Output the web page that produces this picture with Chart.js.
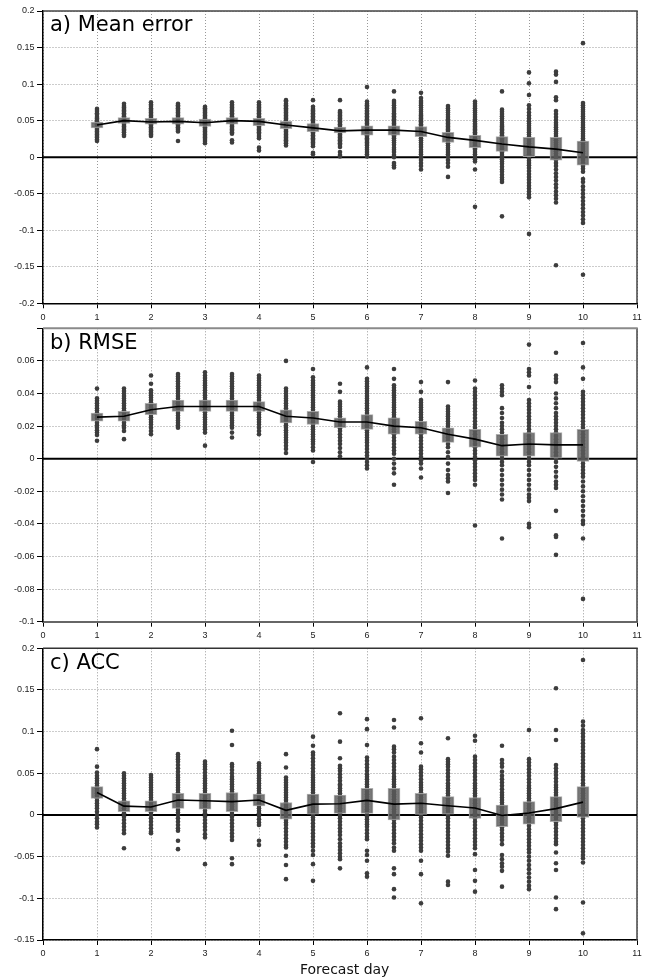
<!DOCTYPE html>
<html><head><meta charset="utf-8">
<script src="https://cdn.jsdelivr.net/npm/chart.js@4.4.0/dist/chart.umd.min.js"></script>
<style>
html,body{margin:0;padding:0;background:#fff;width:648px;height:980px;overflow:hidden}
canvas{position:absolute;left:0}
#xt{position:absolute;left:244.7px;width:200px;top:961px;text-align:center;font:14px "DejaVu Sans";line-height:16px;color:#111}
</style></head><body>
<canvas id="ca" width="648" height="330" style="top:0px"></canvas>
<canvas id="cb" width="648" height="330" style="top:318px"></canvas>
<canvas id="cc" width="648" height="342" style="top:638px"></canvas>
<div id="xt">Forecast day</div>
<script>
const days = [1,1.5,2,2.5,3,3.5,4,4.5,5,5.5,6,6.5,7,7.5,8,8.5,9,9.5,10];
const xTickVals = [0,1,2,3,4,5,6,7,8,9,10,11];
const xTickLabels = ['0','1','2','3','4','5','6','7','8','9','10','11'];

// ---- a) Mean error ----
const meTitle = 'a) Mean error';
const meTickVals = [-0.2,-0.15,-0.1,-0.05,0,0.05,0.1,0.15,0.2];
const meTickLabels = ['-0.2','-0.15','-0.1','-0.05','0','0.05','0.1','0.15','0.2'];
const meMean = [0.044,0.050,0.048,0.049,0.047,0.050,0.049,0.044,0.040,0.036,0.037,0.037,0.035,0.027,0.023,0.018,0.014,0.011,0.006];
const meBoxLow = [0.040,0.046,0.045,0.045,0.042,0.045,0.043,0.039,0.035,0.033,0.030,0.030,0.028,0.020,0.013,0.008,0.000,-0.004,-0.011];
const meBoxHigh = [0.048,0.054,0.053,0.054,0.052,0.054,0.053,0.049,0.046,0.041,0.043,0.043,0.042,0.034,0.030,0.028,0.027,0.027,0.022];
const meDots = [
 [0.066,0.063,0.060,0.058,0.055,0.053,0.051,0.049,0.047,0.045,0.043,0.041,0.039,0.037,0.035,0.033,0.031,0.029,0.027,0.024,0.022],
 [0.073,0.070,0.068,0.066,0.064,0.062,0.060,0.058,0.056,0.054,0.052,0.050,0.048,0.046,0.044,0.042,0.040,0.038,0.036,0.034,0.031,0.029],
 [0.075,0.072,0.070,0.067,0.065,0.063,0.061,0.059,0.057,0.055,0.053,0.051,0.049,0.047,0.045,0.043,0.041,0.039,0.037,0.035,0.033,0.031,0.029],
 [0.073,0.071,0.069,0.067,0.065,0.063,0.061,0.059,0.057,0.055,0.053,0.051,0.049,0.047,0.045,0.043,0.041,0.039,0.037,0.035,0.022],
 [0.069,0.067,0.065,0.063,0.061,0.059,0.057,0.055,0.053,0.051,0.049,0.047,0.045,0.043,0.041,0.039,0.037,0.035,0.033,0.031,0.029,0.027,0.025,0.022,0.019],
 [0.075,0.072,0.070,0.068,0.066,0.064,0.062,0.060,0.058,0.056,0.054,0.052,0.050,0.048,0.046,0.044,0.042,0.040,0.038,0.036,0.034,0.032,0.023,0.020],
 [0.075,0.072,0.070,0.068,0.066,0.064,0.062,0.060,0.058,0.056,0.054,0.052,0.050,0.048,0.046,0.044,0.042,0.040,0.038,0.036,0.034,0.032,0.029,0.026,0.013,0.009],
 [0.078,0.076,0.073,0.071,0.069,0.067,0.065,0.063,0.061,0.059,0.057,0.055,0.053,0.051,0.049,0.047,0.045,0.043,0.041,0.039,0.037,0.035,0.033,0.031,0.029,0.027,0.025,0.023,0.021,0.019,0.016],
 [0.078,0.069,0.066,0.064,0.062,0.060,0.058,0.056,0.054,0.052,0.050,0.048,0.046,0.044,0.042,0.040,0.038,0.036,0.034,0.032,0.030,0.028,0.026,0.024,0.022,0.020,0.018,0.015,0.006,0.004],
 [0.078,0.063,0.061,0.059,0.057,0.055,0.053,0.051,0.049,0.047,0.045,0.043,0.041,0.039,0.037,0.035,0.033,0.031,0.029,0.027,0.025,0.023,0.021,0.019,0.017,0.014,0.007,0.003,0.001],
 [0.096,0.076,0.073,0.071,0.069,0.067,0.064,0.062,0.060,0.058,0.056,0.054,0.052,0.050,0.048,0.046,0.044,0.042,0.040,0.038,0.036,0.034,0.032,0.030,0.028,0.026,0.024,0.022,0.020,0.018,0.016,0.013,0.010,0.007,0.004,0.001],
 [0.090,0.077,0.074,0.071,0.068,0.066,0.063,0.060,0.058,0.056,0.054,0.052,0.050,0.048,0.046,0.044,0.042,0.040,0.038,0.036,0.034,0.032,0.030,0.028,0.026,0.023,0.020,0.017,0.013,0.010,0.007,0.003,0.000,-0.008,-0.011,-0.014],
 [0.088,0.081,0.077,0.074,0.071,0.068,0.065,0.062,0.059,0.057,0.055,0.053,0.051,0.049,0.047,0.045,0.043,0.041,0.039,0.037,0.035,0.033,0.031,0.029,0.026,0.023,0.020,0.017,0.014,0.010,0.007,0.004,0.000,-0.004,-0.008,-0.012,-0.017],
 [0.070,0.067,0.064,0.061,0.058,0.055,0.052,0.050,0.048,0.046,0.044,0.042,0.040,0.038,0.036,0.034,0.032,0.030,0.028,0.025,0.022,0.019,0.016,0.013,0.010,0.007,0.004,0.001,-0.004,-0.008,-0.013,-0.027],
 [0.076,0.073,0.070,0.067,0.064,0.061,0.058,0.055,0.052,0.049,0.046,0.044,0.042,0.040,0.038,0.036,0.034,0.032,0.030,0.028,0.026,0.024,0.022,0.020,0.018,0.016,0.014,0.012,0.010,0.007,0.004,0.001,-0.003,-0.006,-0.017,-0.068],
 [0.090,0.065,0.062,0.059,0.056,0.053,0.050,0.047,0.044,0.042,0.040,0.038,0.036,0.034,0.032,0.030,0.028,0.026,0.024,0.022,0.020,0.018,0.016,0.014,0.012,0.010,0.008,0.006,0.003,0.000,-0.003,-0.006,-0.009,-0.013,-0.017,-0.020,-0.024,-0.028,-0.031,-0.034,-0.081],
 [0.116,0.101,0.085,0.071,0.066,0.061,0.057,0.053,0.049,0.046,0.043,0.040,0.037,0.034,0.031,0.028,0.025,0.022,0.019,0.016,0.013,0.010,0.007,0.004,0.001,-0.002,-0.005,-0.008,-0.011,-0.015,-0.019,-0.023,-0.027,-0.031,-0.035,-0.039,-0.043,-0.047,-0.051,-0.055,-0.105],
 [0.117,0.113,0.103,0.082,0.078,0.063,0.059,0.055,0.051,0.047,0.044,0.041,0.038,0.035,0.032,0.029,0.026,0.023,0.020,0.017,0.014,0.011,0.008,0.005,0.002,-0.001,-0.004,-0.008,-0.012,-0.017,-0.022,-0.027,-0.032,-0.037,-0.042,-0.047,-0.052,-0.057,-0.062,-0.148],
 [0.156,0.074,0.071,0.068,0.065,0.062,0.059,0.056,0.053,0.050,0.047,0.044,0.041,0.038,0.035,0.032,0.029,0.026,0.023,0.020,0.017,0.014,0.011,0.008,0.005,0.002,-0.001,-0.004,-0.008,-0.012,-0.016,-0.020,-0.030,-0.034,-0.040,-0.045,-0.050,-0.055,-0.060,-0.065,-0.070,-0.075,-0.080,-0.085,-0.090,-0.161]
];

// ---- b) RMSE ----
const rmTitle = 'b) RMSE';
const rmTickVals = [-0.1,-0.08,-0.06,-0.04,-0.02,0,0.02,0.04,0.06,0.08];
const rmTickLabels = ['-0.1','-0.08','-0.06','-0.04','-0.02','0','0.02','0.04','0.06',''];
const rmMean = [0.0255,0.026,0.030,0.032,0.032,0.032,0.032,0.026,0.025,0.0225,0.0225,0.020,0.019,0.015,0.012,0.008,0.009,0.0085,0.0085];
const rmBoxLow = [0.023,0.023,0.027,0.029,0.029,0.029,0.029,0.022,0.021,0.019,0.018,0.015,0.015,0.010,0.007,0.0015,0.0015,0.0004,-0.0016];
const rmBoxHigh = [0.028,0.029,0.034,0.036,0.036,0.036,0.035,0.030,0.029,0.025,0.027,0.025,0.023,0.019,0.018,0.015,0.016,0.016,0.018];
const rmDots = [
 [0.043,0.037,0.0355,0.034,0.0325,0.031,0.0295,0.028,0.0265,0.025,0.0235,0.022,0.0205,0.019,0.0175,0.016,0.0145,0.011],
 [0.043,0.0415,0.040,0.0385,0.037,0.0355,0.034,0.0325,0.031,0.0295,0.028,0.0265,0.025,0.0235,0.022,0.0205,0.019,0.017,0.012],
 [0.051,0.046,0.042,0.0405,0.039,0.0375,0.036,0.0345,0.033,0.0315,0.030,0.0285,0.027,0.0255,0.024,0.0225,0.021,0.019,0.017,0.015],
 [0.052,0.0505,0.049,0.0475,0.046,0.0445,0.043,0.0415,0.040,0.0385,0.037,0.0355,0.034,0.0325,0.031,0.0295,0.028,0.0265,0.025,0.0235,0.022,0.0205,0.019],
 [0.053,0.051,0.0495,0.048,0.0465,0.045,0.0435,0.042,0.0405,0.039,0.0375,0.036,0.0345,0.033,0.0315,0.030,0.0285,0.027,0.0255,0.024,0.0225,0.021,0.0195,0.018,0.016,0.008],
 [0.052,0.0505,0.049,0.0475,0.046,0.0445,0.043,0.0415,0.040,0.0385,0.037,0.0355,0.034,0.0325,0.031,0.0295,0.028,0.0265,0.025,0.0235,0.022,0.0205,0.019,0.016,0.013],
 [0.051,0.0495,0.048,0.0465,0.045,0.0435,0.042,0.0405,0.039,0.0375,0.036,0.0345,0.033,0.0315,0.030,0.0285,0.027,0.0255,0.024,0.0225,0.021,0.019,0.017,0.015],
 [0.060,0.043,0.0415,0.040,0.0385,0.037,0.0355,0.034,0.0325,0.031,0.0295,0.028,0.0265,0.025,0.0235,0.022,0.0205,0.019,0.0175,0.016,0.0145,0.013,0.0115,0.010,0.008,0.006,0.0035],
 [0.055,0.050,0.048,0.0465,0.045,0.0435,0.042,0.0405,0.039,0.0375,0.036,0.0345,0.033,0.0315,0.030,0.0285,0.027,0.0255,0.024,0.0225,0.021,0.0195,0.018,0.0165,0.015,0.0135,0.012,0.0105,0.009,0.007,0.005,-0.002],
 [0.046,0.041,0.035,0.0335,0.032,0.0305,0.029,0.0275,0.026,0.0245,0.023,0.0215,0.020,0.0185,0.017,0.015,0.013,0.011,0.009,0.0065,0.004,0.0015],
 [0.056,0.049,0.0475,0.046,0.0445,0.043,0.0415,0.040,0.0385,0.037,0.0355,0.034,0.0325,0.031,0.0295,0.028,0.0265,0.025,0.0235,0.022,0.0205,0.019,0.0175,0.016,0.0145,0.013,0.0115,0.010,0.008,0.006,0.004,0.002,0.000,-0.002,-0.004,-0.006],
 [0.055,0.049,0.045,0.0435,0.042,0.0405,0.039,0.0375,0.036,0.0345,0.033,0.0315,0.030,0.0285,0.027,0.0255,0.024,0.0225,0.021,0.0195,0.018,0.0165,0.015,0.013,0.011,0.009,0.007,0.005,0.003,0.000,-0.003,-0.006,-0.009,-0.016],
 [0.047,0.041,0.036,0.0345,0.033,0.0315,0.030,0.0285,0.027,0.0255,0.024,0.0225,0.021,0.0195,0.018,0.0165,0.015,0.013,0.011,0.009,0.007,0.005,0.003,0.001,-0.001,-0.003,-0.006,-0.0115],
 [0.047,0.032,0.0305,0.029,0.0275,0.026,0.0245,0.023,0.0215,0.020,0.0185,0.017,0.015,0.013,0.011,0.009,0.007,0.004,0.001,-0.003,-0.007,-0.010,-0.012,-0.014,-0.021],
 [0.048,0.043,0.041,0.039,0.037,0.035,0.033,0.031,0.029,0.027,0.025,0.023,0.021,0.019,0.017,0.015,0.013,0.011,0.009,0.007,0.005,0.003,0.001,-0.001,-0.003,-0.005,-0.007,-0.009,-0.011,-0.013,-0.016,-0.041],
 [0.045,0.043,0.041,0.039,0.031,0.028,0.025,0.022,0.020,0.018,0.016,0.014,0.012,0.010,0.008,0.006,0.004,0.002,0.000,-0.002,-0.004,-0.007,-0.010,-0.013,-0.016,-0.019,-0.022,-0.025,-0.049],
 [0.070,0.055,0.053,0.051,0.044,0.036,0.034,0.032,0.030,0.028,0.026,0.024,0.022,0.020,0.018,0.016,0.014,0.012,0.010,0.008,0.006,0.004,0.002,0.000,-0.002,-0.004,-0.007,-0.010,-0.013,-0.016,-0.019,-0.022,-0.024,-0.026,-0.040,-0.042],
 [0.065,0.051,0.049,0.047,0.040,0.037,0.034,0.031,0.028,0.026,0.024,0.022,0.020,0.018,0.016,0.014,0.012,0.010,0.008,0.006,0.004,0.002,0.000,-0.002,-0.005,-0.008,-0.011,-0.014,-0.016,-0.018,-0.032,-0.047,-0.048,-0.059],
 [0.071,0.056,0.049,0.041,0.039,0.037,0.035,0.033,0.031,0.029,0.027,0.025,0.023,0.021,0.019,0.017,0.015,0.013,0.011,0.009,0.007,0.005,0.003,0.001,-0.001,-0.003,-0.005,-0.007,-0.009,-0.011,-0.014,-0.017,-0.020,-0.023,-0.026,-0.029,-0.032,-0.035,-0.038,-0.040,-0.049,-0.086]
];

// ---- c) ACC ----
const acTitle = 'c) ACC';
const acTickVals = [-0.15,-0.1,-0.05,0,0.05,0.1,0.15,0.2];
const acTickLabels = ['-0.15','-0.1','-0.05','0','0.05','0.1','0.15','0.2'];
const acMean = [0.027,0.0106,0.0096,0.018,0.017,0.016,0.018,0.0056,0.013,0.0135,0.0175,0.013,0.014,0.011,0.0084,-0.0006,0.0024,0.0076,0.0154];
const acBoxLow = [0.020,0.004,0.004,0.008,0.007,0.004,0.011,-0.005,0.001,0.002,0.002,-0.006,0.000,0.001,-0.004,-0.014,-0.011,-0.008,-0.003];
const acBoxHigh = [0.034,0.017,0.017,0.026,0.026,0.027,0.025,0.015,0.025,0.024,0.032,0.032,0.026,0.022,0.021,0.012,0.016,0.022,0.034];
const acDots = [
 [0.079,0.058,0.051,0.047,0.044,0.041,0.038,0.035,0.032,0.029,0.026,0.023,0.020,0.017,0.014,0.011,0.008,0.004,0.000,-0.004,-0.008,-0.011,-0.015],
 [0.050,0.047,0.044,0.041,0.038,0.035,0.032,0.029,0.026,0.023,0.020,0.017,0.014,0.011,0.008,0.005,0.002,-0.002,-0.006,-0.010,-0.014,-0.018,-0.022,-0.040],
 [0.048,0.045,0.042,0.039,0.036,0.033,0.030,0.027,0.024,0.021,0.018,0.015,0.012,0.009,0.006,0.003,0.000,-0.004,-0.008,-0.012,-0.016,-0.020,-0.022],
 [0.073,0.070,0.067,0.064,0.060,0.056,0.052,0.048,0.045,0.042,0.039,0.036,0.033,0.030,0.027,0.024,0.021,0.018,0.015,0.012,0.009,0.006,0.003,0.000,-0.004,-0.008,-0.012,-0.016,-0.019,-0.031,-0.041],
 [0.064,0.061,0.058,0.055,0.051,0.047,0.044,0.041,0.038,0.035,0.032,0.029,0.026,0.023,0.020,0.017,0.014,0.011,0.008,0.005,0.002,-0.002,-0.006,-0.010,-0.014,-0.018,-0.023,-0.027,-0.059],
 [0.101,0.084,0.061,0.058,0.054,0.050,0.046,0.043,0.040,0.037,0.034,0.031,0.028,0.025,0.022,0.019,0.016,0.013,0.010,0.007,0.004,0.001,-0.002,-0.006,-0.010,-0.014,-0.018,-0.022,-0.026,-0.030,-0.052,-0.059],
 [0.062,0.059,0.056,0.053,0.050,0.047,0.044,0.041,0.038,0.035,0.032,0.029,0.026,0.023,0.020,0.017,0.014,0.011,0.008,0.005,0.002,-0.001,-0.005,-0.009,-0.012,-0.031,-0.036],
 [0.073,0.057,0.045,0.042,0.039,0.036,0.033,0.030,0.027,0.024,0.021,0.018,0.015,0.012,0.009,0.006,0.003,0.000,-0.003,-0.006,-0.009,-0.012,-0.016,-0.020,-0.024,-0.028,-0.032,-0.036,-0.039,-0.049,-0.060,-0.077],
 [0.094,0.083,0.075,0.072,0.068,0.064,0.060,0.056,0.052,0.048,0.045,0.042,0.039,0.036,0.033,0.030,0.027,0.024,0.021,0.018,0.015,0.012,0.009,0.006,0.003,0.000,-0.003,-0.006,-0.010,-0.014,-0.018,-0.022,-0.026,-0.030,-0.034,-0.038,-0.043,-0.048,-0.059,-0.079],
 [0.122,0.088,0.068,0.059,0.056,0.053,0.049,0.045,0.041,0.037,0.035,0.032,0.029,0.026,0.023,0.020,0.017,0.014,0.011,0.008,0.005,0.002,-0.001,-0.004,-0.008,-0.012,-0.016,-0.020,-0.024,-0.029,-0.034,-0.038,-0.042,-0.046,-0.050,-0.053,-0.064],
 [0.115,0.103,0.084,0.069,0.065,0.061,0.057,0.053,0.049,0.046,0.043,0.040,0.037,0.034,0.031,0.028,0.025,0.022,0.019,0.016,0.013,0.010,0.007,0.004,0.001,-0.002,-0.005,-0.008,-0.011,-0.014,-0.018,-0.022,-0.026,-0.029,-0.043,-0.048,-0.055,-0.070,-0.074],
 [0.114,0.105,0.082,0.079,0.075,0.070,0.066,0.062,0.058,0.054,0.050,0.046,0.043,0.040,0.037,0.034,0.031,0.028,0.025,0.022,0.019,0.016,0.013,0.010,0.007,0.004,0.001,-0.002,-0.006,-0.010,-0.014,-0.018,-0.022,-0.026,-0.030,-0.034,-0.039,-0.043,-0.064,-0.071,-0.089,-0.099],
 [0.116,0.086,0.075,0.058,0.055,0.051,0.047,0.043,0.039,0.036,0.033,0.030,0.027,0.024,0.021,0.018,0.015,0.012,0.009,0.006,0.003,0.000,-0.003,-0.007,-0.011,-0.015,-0.019,-0.023,-0.027,-0.031,-0.035,-0.039,-0.043,-0.055,-0.071,-0.106],
 [0.092,0.067,0.064,0.061,0.058,0.054,0.050,0.046,0.042,0.038,0.035,0.032,0.029,0.026,0.023,0.020,0.017,0.014,0.011,0.008,0.005,0.002,-0.001,-0.004,-0.008,-0.012,-0.016,-0.020,-0.024,-0.028,-0.032,-0.036,-0.040,-0.044,-0.049,-0.080,-0.084],
 [0.095,0.089,0.070,0.066,0.062,0.058,0.054,0.050,0.046,0.042,0.038,0.035,0.032,0.029,0.026,0.023,0.020,0.017,0.014,0.011,0.008,0.005,0.002,-0.001,-0.004,-0.008,-0.012,-0.016,-0.020,-0.024,-0.028,-0.032,-0.036,-0.040,-0.047,-0.066,-0.079,-0.092],
 [0.083,0.066,0.062,0.058,0.052,0.047,0.043,0.039,0.035,0.031,0.027,0.024,0.021,0.018,0.015,0.012,0.009,0.006,0.003,0.000,-0.003,-0.006,-0.009,-0.012,-0.015,-0.018,-0.022,-0.026,-0.030,-0.035,-0.048,-0.053,-0.058,-0.062,-0.067,-0.086],
 [0.102,0.067,0.063,0.059,0.055,0.051,0.047,0.043,0.039,0.035,0.032,0.029,0.026,0.023,0.020,0.017,0.014,0.011,0.008,0.005,0.002,-0.001,-0.004,-0.007,-0.010,-0.013,-0.017,-0.021,-0.025,-0.029,-0.033,-0.037,-0.041,-0.045,-0.050,-0.055,-0.060,-0.065,-0.070,-0.075,-0.080,-0.085,-0.089],
 [0.152,0.102,0.090,0.060,0.056,0.052,0.048,0.044,0.040,0.036,0.033,0.030,0.027,0.024,0.021,0.018,0.015,0.012,0.009,0.006,0.003,0.000,-0.003,-0.006,-0.009,-0.012,-0.016,-0.020,-0.024,-0.028,-0.032,-0.035,-0.045,-0.058,-0.066,-0.099,-0.113],
 [0.186,0.112,0.107,0.102,0.098,0.094,0.090,0.086,0.082,0.078,0.074,0.070,0.066,0.062,0.058,0.054,0.050,0.046,0.042,0.038,0.035,0.032,0.029,0.026,0.023,0.020,0.017,0.014,0.011,0.008,0.005,0.002,-0.001,-0.004,-0.008,-0.012,-0.016,-0.020,-0.024,-0.028,-0.032,-0.036,-0.040,-0.044,-0.048,-0.052,-0.057,-0.105,-0.142]
];

const framePlugin = {
  id: 'frame',
  beforeDatasetsDraw(chart, args, o) {
    const {ctx, chartArea: a} = chart;
    ctx.save();
    ctx.strokeStyle = o.rightColor; ctx.lineWidth = 1.5;
    ctx.beginPath(); ctx.moveTo(a.right, a.top); ctx.lineTo(a.right, a.bottom); ctx.stroke();
    ctx.strokeStyle = o.topColor; ctx.lineWidth = o.topWidth;
    ctx.beginPath(); ctx.moveTo(a.left, a.top); ctx.lineTo(a.right + 0.75, a.top); ctx.stroke();
    ctx.font = '21px "DejaVu Sans"';
    ctx.fillStyle = '#000';
    ctx.textBaseline = 'alphabetic';
    ctx.textAlign = 'left';
    ctx.fillText(o.title, a.left + 7, a.top + 20.3);
    ctx.restore();
  }
};

function makeChart(id, p) {
  const dots = [];
  p.dots.forEach((col, i) => col.forEach(v => dots.push({x: days[i], y: v})));
  const boxes = days.map((d, i) => ({x: d, y: [p.lo[i], p.hi[i]]}));
  const mean = days.map((d, i) => ({x: d, y: p.mean[i]}));
  const tickFont = {family: '"Liberation Sans", Arial, sans-serif', size: 9};
  return new Chart(document.getElementById(id), {
    type: 'scatter',
    data: {datasets: [
      {type: 'line', data: [{x: 0, y: 0}, {x: 11, y: 0}], borderColor: '#000', borderWidth: 2, pointRadius: 0, order: 4},
      {type: 'scatter', data: dots, pointRadius: 2.3, backgroundColor: '#3d3d3d', borderWidth: 0, order: 3},
      {type: 'bar', data: boxes, barThickness: 12, backgroundColor: 'rgba(90,90,90,0.82)', borderColor: 'rgba(165,165,165,0.9)', borderWidth: 1, borderSkipped: false, order: 2},
      {type: 'line', data: mean, borderColor: '#000', borderWidth: 1.6, pointRadius: 0, tension: 0, order: 1}
    ]},
    options: {
      responsive: false, animation: false, events: [], devicePixelRatio: 1,
      layout: {padding: {top: p.padTop, right: 11, left: 0, bottom: 0}},
      plugins: {legend: {display: false}, tooltip: {enabled: false},
        frame: {title: p.title, topColor: p.topColor, topWidth: p.topWidth, rightColor: '#444'}},
      scales: {
        x: {type: 'linear', min: 0, max: 11, offset: false,
          afterBuildTicks: s => { s.ticks = xTickVals.map(v => ({value: v})); },
          afterFit: s => { s.height = p.xH; },
          grid: {offset: false, color: '#999', lineWidth: 1, drawTicks: true, tickLength: 5, tickColor: '#000', tickWidth: 1},
          border: {display: true, color: p.bottomColor, width: p.bottomWidth, dash: [1, 2]},
          ticks: {font: tickFont, color: '#222', padding: 3.5, maxRotation: 0, autoSkip: false,
            callback: (v, i) => xTickLabels[i]}
        },
        y: {type: 'linear', min: p.min, max: p.max,
          afterBuildTicks: s => { s.ticks = p.tickVals.map(v => ({value: v})); },
          afterFit: s => { s.width = 43; },
          grid: {color: '#999', lineWidth: 1, drawTicks: true, tickLength: 6, tickColor: '#000', tickWidth: 1},
          border: {display: true, color: '#000', width: 1.5, dash: [1, 2]},
          ticks: {font: tickFont, color: '#222', padding: 2.5, autoSkip: false,
            callback: (v, i) => p.tickLabels[i]}
        }
      }
    },
    plugins: [framePlugin]
  });
}

makeChart('ca', {title: meTitle, dots: meDots, lo: meBoxLow, hi: meBoxHigh, mean: meMean,
  min: -0.2, max: 0.2, tickVals: meTickVals, tickLabels: meTickLabels,
  padTop: 11, xH: 26.7, topColor: '#444', topWidth: 1.5, bottomColor: '#000', bottomWidth: 1.5});
makeChart('cb', {title: rmTitle, dots: rmDots, lo: rmBoxLow, hi: rmBoxHigh, mean: rmMean,
  min: -0.1, max: 0.08, tickVals: rmTickVals, tickLabels: rmTickLabels,
  padTop: 10.3, xH: 26.3, topColor: '#8a8a8a', topWidth: 2, bottomColor: '#666', bottomWidth: 2});
makeChart('cc', {title: acTitle, dots: acDots, lo: acBoxLow, hi: acBoxHigh, mean: acMean,
  min: -0.15, max: 0.2, tickVals: acTickVals, tickLabels: acTickLabels,
  padTop: 10.3, xH: 40, topColor: '#333', topWidth: 1.5, bottomColor: '#000', bottomWidth: 1.5});
</script>
</body></html>
